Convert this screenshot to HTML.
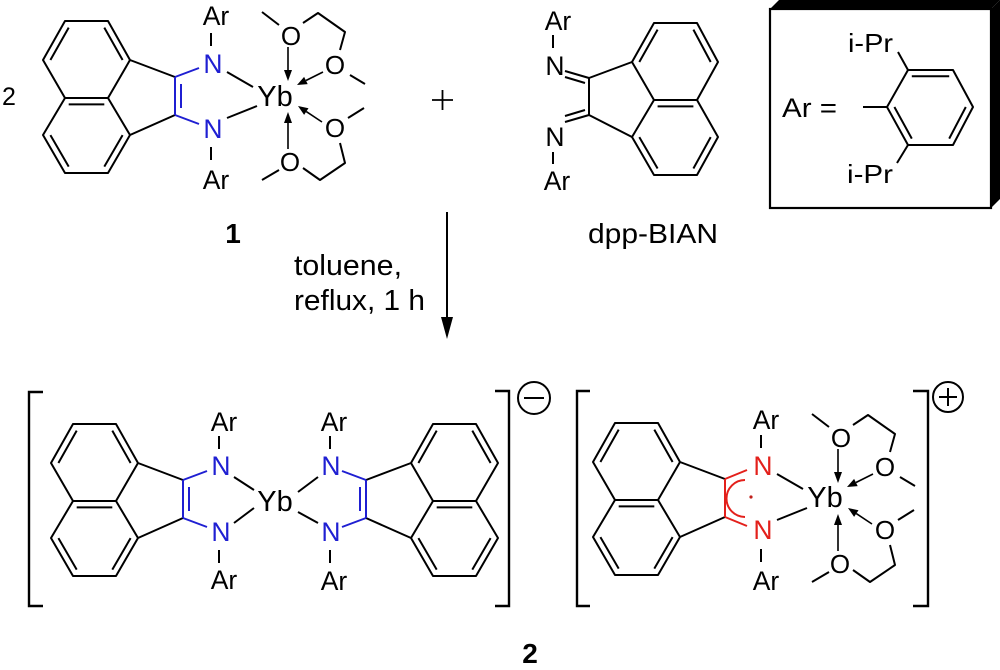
<!DOCTYPE html>
<html><head><meta charset="utf-8"><style>
html,body{margin:0;padding:0;background:#fff;}
svg{display:block}
text{font-family:"Liberation Sans",Arial,sans-serif;}
</style></head><body>
<svg width="1000" height="670" viewBox="0 0 1000 670" xmlns="http://www.w3.org/2000/svg">
<rect width="1000" height="670" fill="#fff"/>

<!-- ===== Molecule 1 (top-left) ===== -->
<g fill="none" stroke="#000" stroke-width="2" stroke-linejoin="round">
  <path d="M65 21 L108 21 L130 60 L108 98 L65 98 L43 60 Z M108 98 L130 135 L108 173 L65 173 L43 135 L65 98 M130 60 L175 77 M130 135 L175 115"/>
  <path d="M50.4 60 L68.7 27.6 M104.3 27.6 L122.6 60 M68.7 104.4 L104.3 104.4 M50.4 135.1 L68.7 166.6 M104.3 166.6 L122.6 135.1"/>
  <path d="M211 33 L211 46 M211 147 L211 160 M227 72 L253 87 M227 118 L257 106"/>
  <path d="M262 12 L279 25 M303 23 L318 13 L345 32 L340 50 M350 75 L365 84 M348 118 L364 108 M340 143 L345 163 L320 180 L303 168 M279 170 L262 180"/>
  <path stroke-width="1.6" d="M288 47 L288 71 M323 72 L306 80.5 M322 122 L306.3 111.6 M288 149 L288 123"/>
</g>
<g fill="#000">
  <polygon points="288,81 284,70 292,70"/>
  <polygon points="297,85 307.7,84.1 304.1,76.9"/>
  <polygon points="298,106 308.5,108.3 304.1,114.9"/>
  <polygon points="288,112 284,123 292,123"/>
</g>
<g fill="none" stroke="#1f1fd2" stroke-width="2">
  <path d="M175 77 L175 115 M181 84 L181 108 M175 77 L199 68 M175 115 L199 124"/>
</g>
<g font-size="26.5" text-anchor="middle" fill="#000">
  <text x="216" y="25">Ar</text>
  <text x="213" y="73" fill="#1f1fd2">N</text>
  <text x="213" y="138" fill="#1f1fd2">N</text>
  <text x="216" y="189">Ar</text>
  <text x="275" y="106" font-size="29">Yb</text>
  <text x="291" y="45" font-size="26">O</text>
  <text x="335" y="74" font-size="26">O</text>
  <text x="335" y="137" font-size="26">O</text>
  <text x="290" y="171" font-size="26">O</text>
</g>
<text x="2" y="105" font-size="25" fill="#000">2</text>
<text x="233" y="243" font-size="28" font-weight="bold" text-anchor="middle" fill="#000">1</text>

<!-- plus -->
<path d="M432 100 L453 100 M442.5 90 L442.5 110" stroke="#000" stroke-width="1.8"/>

<!-- ===== dpp-BIAN ===== -->
<g fill="none" stroke="#000" stroke-width="2" stroke-linejoin="round">
  <path d="M654 23 L697 23 L718 62 L697 100 L654 100 L632 62 Z M654 100 L632 137 L654 175 L697 175 L718 137 L697 100"/>
  <path d="M657.6 29.6 L639.3 62 M693.4 29.6 L710.7 62 M657.6 106.4 L693.4 106.4 M639.3 137.1 L657.6 168.5 M693.4 168.5 L710.7 137.1"/>
  <path d="M589 78 L632 62 M589 115 L632 137 M589 78 L589 115"/>
  <path d="M565 71 L589 78 M565 77 L585 83 M565 122 L589 115 M565 116 L585 110"/>
  <path d="M553 35 L553 48 M553 152 L553 164"/>
</g>
<g font-size="26.5" text-anchor="middle" fill="#000">
  <text x="558" y="30">Ar</text>
  <text x="555" y="75">N</text>
  <text x="555" y="146">N</text>
  <text x="557" y="190">Ar</text>
</g>
<text x="588" y="243" font-size="28" textLength="130" lengthAdjust="spacingAndGlyphs" fill="#000">dpp-BIAN</text>

<!-- ===== Ar box ===== -->
<rect x="770" y="9" width="221" height="199" fill="none" stroke="#000" stroke-width="2.2"/>
<polygon points="770,9 779,0 1000,0 991,9" fill="#000"/>
<polygon points="991,9 1000,0 1000,199 991,208" fill="#000"/>
<g fill="none" stroke="#000" stroke-width="2" stroke-linejoin="round">
  <path d="M908 70 L953 70 L973 107 L953 145 L908 145 L887 107 Z"/>
  <path d="M911.8 76.3 L949.2 76.3 M949.2 138.6 L965.8 107 M894.4 107 L911.8 138.6"/>
  <path d="M863 107 L887 107 M898 52 L908 70 M908 145 L897 163"/>
</g>
<text x="782" y="117" font-size="27" textLength="55" lengthAdjust="spacingAndGlyphs" fill="#000">Ar =</text>
<text x="848" y="52" font-size="26" textLength="45" lengthAdjust="spacingAndGlyphs" fill="#000">i-Pr</text>
<text x="847" y="183" font-size="26" textLength="46" lengthAdjust="spacingAndGlyphs" fill="#000">i-Pr</text>

<!-- ===== reaction arrow & conditions ===== -->
<path d="M447 212 L447 322" stroke="#000" stroke-width="2"/>
<polygon points="447,339 441,317 453,317" fill="#000"/>
<text x="294" y="275" font-size="29" textLength="108" lengthAdjust="spacingAndGlyphs" fill="#000">toluene,</text>
<text x="294" y="310" font-size="29" textLength="131" lengthAdjust="spacingAndGlyphs" fill="#000">reflux, 1 h</text>

<!-- ===== Anion ===== -->
<g fill="none" stroke="#000" stroke-width="2.4">
  <path d="M43 392 L29 392 L29 606 L43 606"/>
  <path d="M495 391 L509 391 L509 606 L495 606"/>
</g>
<circle cx="534" cy="398" r="16" fill="none" stroke="#000" stroke-width="2"/>
<path d="M524 398 L544 398" stroke="#000" stroke-width="2"/>

<g transform="translate(8,403)">
  <g fill="none" stroke="#000" stroke-width="2" stroke-linejoin="round">
    <path d="M65 21 L108 21 L130 60 L108 98 L65 98 L43 60 Z M108 98 L130 135 L108 173 L65 173 L43 135 L65 98 M130 60 L175 77 M130 135 L175 115"/>
    <path d="M50.4 60 L68.7 27.6 M104.3 27.6 L122.6 60 M68.7 104.4 L104.3 104.4 M50.4 135.1 L68.7 166.6 M104.3 166.6 L122.6 135.1"/>
    <path d="M211 33 L211 46 M211 147 L211 160"/>
  </g>
  <path d="M175 77 L175 115 M181 84 L181 108 M175 77 L199 68 M175 115 L199 124" fill="none" stroke="#1f1fd2" stroke-width="2"/>
</g>
<g transform="translate(541,403) scale(-1,1)">
  <g fill="none" stroke="#000" stroke-width="2" stroke-linejoin="round">
    <path d="M65 21 L108 21 L130 60 L108 98 L65 98 L43 60 Z M108 98 L130 135 L108 173 L65 173 L43 135 L65 98 M130 60 L175 77 M130 135 L175 115"/>
    <path d="M50.4 60 L68.7 27.6 M104.3 27.6 L122.6 60 M68.7 104.4 L104.3 104.4 M50.4 135.1 L68.7 166.6 M104.3 166.6 L122.6 135.1"/>
    <path d="M211 33 L211 46 M211 147 L211 160"/>
  </g>
  <path d="M175 77 L175 115 M181 84 L181 108 M175 77 L199 68 M175 115 L199 124" fill="none" stroke="#1f1fd2" stroke-width="2"/>
</g>
<path d="M234 477 L254 490 M234 523 L254 508 M298 492 L318 477 M298 512 L318 523" stroke="#000" stroke-width="2" fill="none"/>
<g font-size="26.5" text-anchor="middle" fill="#000">
  <text x="224" y="431">Ar</text>
  <text x="221" y="475" fill="#1f1fd2">N</text>
  <text x="221" y="541" fill="#1f1fd2">N</text>
  <text x="224" y="589">Ar</text>
  <text x="275" y="511" font-size="29">Yb</text>
  <text x="331" y="475" fill="#1f1fd2">N</text>
  <text x="331" y="541" fill="#1f1fd2">N</text>
  <text x="334" y="431">Ar</text>
  <text x="334" y="590">Ar</text>
</g>

<!-- ===== Cation ===== -->
<g fill="none" stroke="#000" stroke-width="2.4">
  <path d="M590 391 L577 391 L577 606 L590 606"/>
  <path d="M913 391 L928 391 L928 606 L913 606"/>
</g>
<circle cx="948" cy="397" r="15" fill="none" stroke="#000" stroke-width="2"/>
<path d="M939 397 L957 397 M948 388 L948 406" stroke="#000" stroke-width="2"/>

<g transform="translate(550,402)">
  <g fill="none" stroke="#000" stroke-width="2" stroke-linejoin="round">
    <path d="M65 21 L108 21 L130 60 L108 98 L65 98 L43 60 Z M108 98 L130 135 L108 173 L65 173 L43 135 L65 98 M130 60 L175 77 M130 135 L175 115"/>
    <path d="M50.4 60 L68.7 27.6 M104.3 27.6 L122.6 60 M68.7 104.4 L104.3 104.4 M50.4 135.1 L68.7 166.6 M104.3 166.6 L122.6 135.1"/>
    <path d="M211 33 L211 46 M211 147 L211 160 M227 72 L253 87 M227 118 L257 106"/>
    <path d="M262 12 L279 25 M303 23 L318 13 L345 32 L340 50 M350 75 L365 84 M348 118 L364 108 M340 143 L345 163 L320 180 L303 168 M279 170 L262 180"/>
    <path stroke-width="1.6" d="M288 47 L288 71 M323 72 L306 80.5 M322 122 L306.3 111.6 M288 149 L288 123"/>
  </g>
  <g fill="#000">
    <polygon points="288,81 284,70 292,70"/>
    <polygon points="297,85 307.7,84.1 304.1,76.9"/>
    <polygon points="298,106 308.5,108.3 304.1,114.9"/>
    <polygon points="288,112 284,123 292,123"/>
  </g>
  <g fill="none" stroke="#e3201b" stroke-width="2">
    <path d="M175 77 L175 115 M175 77 L197 68 M175 115 L197 124"/>
    <path d="M195 78 A18.5 18.5 0 0 0 195 115"/>
  </g>
  <circle cx="201" cy="95" r="1.6" fill="#c0201b"/>
</g>
<g font-size="26.5" text-anchor="middle" fill="#000">
  <text x="766" y="429">Ar</text>
  <text x="763" y="475" fill="#e3201b">N</text>
  <text x="763" y="539" fill="#e3201b">N</text>
  <text x="766" y="590">Ar</text>
  <text x="825" y="507" font-size="29">Yb</text>
  <text x="841" y="447" font-size="26">O</text>
  <text x="885" y="476" font-size="26">O</text>
  <text x="885" y="539" font-size="26">O</text>
  <text x="840" y="573" font-size="26">O</text>
</g>

<text x="530" y="663" font-size="28" font-weight="bold" text-anchor="middle" fill="#000">2</text>
</svg>
</body></html>
